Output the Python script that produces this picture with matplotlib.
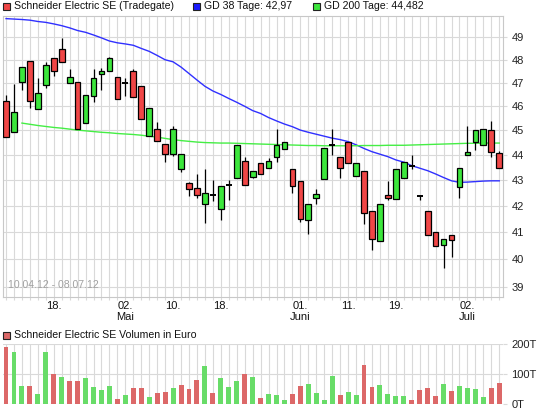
import numpy as np
import matplotlib
matplotlib.use('Agg')
import matplotlib.pyplot as plt
from matplotlib.patches import Rectangle
from matplotlib.ticker import FixedLocator, FixedFormatter, NullLocator

plt.rcParams['font.family'] = ['Liberation Sans', 'DejaVu Sans']
plt.rcParams['font.size'] = 8

# daily candles 10.04.12 - 06.07.12 (Tradegate)
opens = [46.21, 44.95, 47.03, 47.93, 45.89, 46.91, 48.06, 48.49, 46.99, 47.03,
         45.32, 46.43, 47.37, 47.50, 47.24, 47.00, 47.53, 46.88, 44.75, 45.07,
         44.43, 44.03, 43.42, 42.88, 42.68, 42.07, 42.40, 41.88, 42.80, 43.08,
         43.74, 43.12, 43.68, 43.49, 43.93, 44.22, 43.45, 42.96, 41.44, 42.31,
         43.05, 44.39, 43.93, 44.53, 43.17, 43.37, 41.81, 40.66, 42.40, 42.27,
         43.08, 43.56, 42.37, 41.81, 41.00, 40.53, 40.90, 42.72, 43.98, 44.53,
         44.42, 45.01, 44.09]
highs = [46.48, 46.96, 47.67, 47.93, 47.20, 47.89, 48.06, 48.96, 47.60, 47.03,
         46.47, 47.60, 47.64, 48.13, 47.24, 47.20, 47.60, 46.88, 45.92, 45.35,
         44.43, 45.18, 44.05, 42.92, 43.25, 43.42, 42.99, 42.78, 43.02, 44.39,
         43.93, 43.35, 43.68, 43.87, 45.04, 44.53, 43.45, 42.96, 42.07, 42.65,
         44.28, 45.04, 43.93, 44.53, 43.69, 43.37, 41.81, 42.07, 42.98, 43.42,
         43.70, 44.00, 42.37, 41.81, 41.00, 40.75, 40.90, 43.49, 45.18, 45.01,
         45.07, 45.37, 44.17]
lows = [44.72, 44.95, 46.67, 45.93, 45.89, 46.77, 47.29, 47.89, 46.99, 45.07,
        45.32, 46.20, 46.71, 47.50, 46.31, 46.45, 46.39, 45.46, 44.75, 44.58,
        43.70, 43.97, 43.33, 42.38, 42.30, 41.35, 42.17, 41.45, 42.21, 43.08,
        42.81, 43.08, 43.22, 43.49, 43.70, 44.22, 42.51, 41.37, 40.92, 42.07,
        43.05, 44.00, 43.08, 43.67, 43.17, 41.29, 40.32, 40.66, 42.24, 42.27,
        43.08, 43.45, 42.21, 40.91, 40.50, 39.67, 40.08, 42.31, 43.98, 44.19,
        44.42, 43.90, 43.49]
closes = [44.72, 45.75, 47.67, 46.21, 46.56, 47.78, 47.50, 47.89, 47.23, 45.07,
          46.47, 47.20, 47.50, 48.06, 46.31, 47.00, 46.39, 45.46, 45.92, 44.58,
          44.03, 45.07, 44.05, 42.65, 42.43, 42.51, 42.40, 42.78, 42.80, 44.39,
          42.81, 43.35, 43.22, 43.74, 44.39, 44.53, 42.76, 41.48, 42.07, 42.47,
          44.28, 44.39, 43.49, 43.67, 43.69, 41.73, 40.75, 42.07, 42.29, 43.42,
          43.70, 43.56, 42.37, 40.91, 40.50, 40.75, 40.69, 43.49, 44.10, 45.01,
          45.07, 44.10, 43.49]

# moving averages as drawn (GD 200 starts at the third day)
gd38 = [49.84, 49.82, 49.80, 49.77, 49.71, 49.67, 49.60, 49.52, 49.42, 49.30,
        49.22, 49.10, 48.97, 48.83, 48.75, 48.70, 48.64, 48.50, 48.37, 48.19,
        48.00, 47.91, 47.68, 47.40, 47.12, 46.85, 46.65, 46.50, 46.33, 46.17,
        46.00, 45.82, 45.70, 45.53, 45.39, 45.26, 45.15, 45.01, 44.92, 44.84,
        44.76, 44.68, 44.62, 44.54, 44.41, 44.26, 44.13, 44.03, 43.93, 43.80,
        43.71, 43.57, 43.47, 43.37, 43.24, 43.10, 42.97, 42.91, 42.92, 42.94,
        42.96, 42.97, 42.97]
gd200 = [np.nan, np.nan, 45.30, 45.25, 45.20, 45.16, 45.12, 45.09, 45.05, 45.01,
         44.98, 44.95, 44.92, 44.90, 44.87, 44.85, 44.83, 44.80, 44.76, 44.72,
         44.67, 44.62, 44.58, 44.55, 44.52, 44.50, 44.49, 44.48, 44.48, 44.47,
         44.46, 44.45, 44.44, 44.43, 44.42, 44.41, 44.40, 44.39, 44.38, 44.38,
         44.37, 44.37, 44.37, 44.37, 44.37, 44.38, 44.38, 44.38, 44.39, 44.39,
         44.39, 44.40, 44.41, 44.42, 44.43, 44.44, 44.45, 44.46, 44.47, 44.47,
         44.48, 44.48, 44.48]

# volume in thousand euro
volume = [192, 175, 60, 60, 33, 175, 100, 90, 76, 76, 87, 56, 46, 60, 16, 29,
          53, 53, 22, 36, 39, 53, 63, 49, 80, 127, 36, 87, 56, 76, 100, 90, 19,
          33, 29, 12, 33, 60, 66, 36, 12, 93, 29, 39, 29, 130, 56, 63, 33, 26,
          26, 12, 46, 53, 26, 66, 43, 60, 53, 49, 22, 53, 70]

tick_pos = [6, 15, 21, 27, 37, 43, 49, 58]
tick_text = ['18.', '02.\nMai', '10.', '18.', '01.\nJuni', '11.', '19.', '02.\nJuli']
price_ticks = [39, 40, 41, 42, 43, 44, 45, 46, 47, 48, 49]

RED = '#f04646'
GREEN = '#3ce63c'
VRED = '#dc6868'
VGREEN = '#68dc68'
GRID = '#d9d9d9'
FS = 7.6

n = len(closes)
x = np.arange(n)

fig = plt.figure(figsize=(5.45, 4.13), dpi=100)
ax = fig.add_axes([3 / 545, 116.3 / 413, 500 / 545, 280.7 / 413])
axv = fig.add_axes([3 / 545, 9.3 / 413, 500 / 545, 59.4 / 413])

# price panel
ax.set_yscale('log')
ax.set_xlim(-0.38, 62.47)
ax.set_ylim(38.65, 49.96)
ax.plot(x, gd38, color='#3030ff', lw=1.0, zorder=2)
ax.plot(x, gd200, color='#44ee44', lw=1.0, zorder=2)

for i in range(n):
    o, h, l, c = opens[i], highs[i], lows[i], closes[i]
    ax.vlines(i, l, h, color='black', lw=0.9, zorder=3)
    if abs(c - o) < 0.005:
        ax.hlines(o, i - 0.36, i + 0.36, color='black', lw=1.4, zorder=4)
    else:
        col = GREEN if c > o else RED
        ax.bar(i, abs(c - o), bottom=min(o, c), width=0.72, color=col,
               edgecolor='black', linewidth=0.9, zorder=4)

ax.yaxis.set_major_locator(FixedLocator(price_ticks))
ax.yaxis.set_major_formatter(FixedFormatter([str(p) for p in price_ticks]))
ax.yaxis.set_minor_locator(NullLocator())
ax.yaxis.tick_right()
ax.tick_params(axis='y', length=3, color=GRID, pad=3, labelcolor='#222222', labelsize=8)
ax.xaxis.remove_overlapping_locs = False
ax.set_xticks(x)
ax.set_xticklabels([''] * n)
ax.tick_params(axis='x', length=2, color=GRID)
ax.set_xticks(tick_pos, minor=True)
ax.set_xticklabels(tick_text, minor=True)
ax.tick_params(axis='x', which='minor', length=0, pad=3, labelsize=8, labelcolor='#111111')
ax.grid(True, which='major', color=GRID, lw=0.8, zorder=0)
ax.set_axisbelow(True)
for s in ax.spines.values():
    s.set_color('#c8c8c8')
ax.text(0.011, 0.025, '10.04.12 - 08.07.12', transform=ax.transAxes,
        color='#a0a0a0', fontsize=FS, va='bottom', ha='left')

# volume panel, colour follows close vs previous close
vcols = [VRED] + [VGREEN if closes[i] >= closes[i - 1] else VRED for i in range(1, n)]
axv.bar(x, volume, width=0.62, color=vcols, zorder=3)
axv.set_xlim(-0.38, 62.47)
axv.set_ylim(0, 200)
axv.set_yticks([0, 100, 200])
axv.set_yticklabels(['0T', '100T', '200T'])
axv.yaxis.tick_right()
axv.tick_params(axis='y', length=3, color=GRID, pad=3, labelcolor='#222222', labelsize=8)
axv.set_xticks(x)
axv.set_xticklabels([''] * n)
axv.tick_params(axis='x', length=0)
axv.grid(True, color=GRID, lw=0.8, zorder=0)
axv.set_axisbelow(True)
for s in axv.spines.values():
    s.set_visible(False)

# legends drawn as boxes + text
def legend_item(px, py, col, label):
    fig.add_artist(Rectangle((px / 545, 1 - (py + 7) / 413), 7 / 545, 7 / 413,
                             transform=fig.transFigure, facecolor=col,
                             edgecolor='#222222', lw=0.8))
    fig.text((px + 11) / 545, 1 - (py + 3.5) / 413, label, va='center',
             ha='left', fontsize=FS, color='#111111')

legend_item(3, 2.5, RED, 'Schneider Electric SE (Tradegate)')
legend_item(193, 2.5, '#1a1aff', 'GD 38 Tage: 42,97')
legend_item(313, 2.5, GREEN, 'GD 200 Tage: 44,482')
legend_item(3, 332, VRED, 'Schneider Electric SE Volumen in Euro')

fig.savefig('out.png', dpi=100)
